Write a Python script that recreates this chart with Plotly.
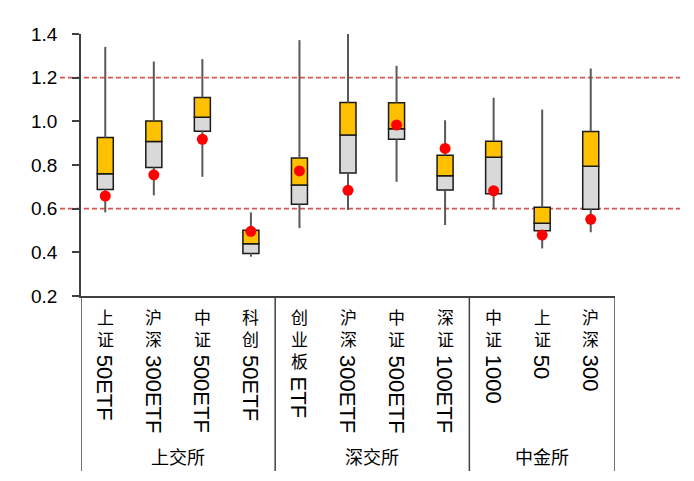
import plotly.graph_objects as go

# ---- data ----
labels = ["上证50ETF", "沪深300ETF", "中证500ETF", "科创50ETF",
          "创业板ETF", "沪深300ETF", "中证500ETF", "深证100ETF",
          "中证1000", "上证50", "沪深300"]
groups = ["上交所", "深交所", "中金所"]
group_sizes = [4, 4, 3]
w_low = [0.583, 0.661, 0.746, 0.380, 0.511, 0.594, 0.723, 0.525, 0.597, 0.418, 0.492]
q1 = [0.688, 0.789, 0.955, 0.395, 0.620, 0.763, 0.918, 0.685, 0.668, 0.499, 0.597]
median = [0.760, 0.908, 1.019, 0.439, 0.708, 0.937, 0.966, 0.751, 0.835, 0.533, 0.794]
q3 = [0.926, 1.002, 1.109, 0.501, 0.832, 1.086, 1.085, 0.845, 0.909, 0.606, 0.954]
w_high = [1.341, 1.274, 1.285, 0.583, 1.372, 1.400, 1.254, 1.005, 1.108, 1.054, 1.242]
current = [0.658, 0.755, 0.918, 0.496, 0.773, 0.684, 0.983, 0.876, 0.682, 0.479, 0.551]
ref_lines = [1.2, 0.6]
y_ticks = [0.2, 0.4, 0.6, 0.8, 1.0, 1.2, 1.4]

W, H = 694, 481
OFF = 8  # page body margin
# plot area in page pixels
PX0, PX1, PY0, PY1 = 81, 615, 34, 296
L = PX0 - OFF
T = PY0 - OFF
R = W - (PX1 - OFF)
B = H - (PY1 - OFF)
plot_w = PX1 - PX0
plot_h = PY1 - PY0

x = list(range(len(labels)))

fig = go.Figure()

# whiskers (two segments each, outside the box)
wx, wy = [], []
for i in x:
    wx += [i, i, None, i, i, None]
    wy += [w_low[i], q1[i], None, q3[i], w_high[i], None]
fig.add_trace(go.Scatter(x=wx, y=wy, mode="lines",
                         line=dict(color="#595959", width=2),
                         hoverinfo="skip", showlegend=False, cliponaxis=False))

# lower box (Q1 -> median)
fig.add_trace(go.Bar(x=x, base=q1, y=[m - a for m, a in zip(median, q1)],
                     width=0.33, marker=dict(color="#D9D9D9",
                     line=dict(color="#1a1a1a", width=1.5)), showlegend=False))
# upper box (median -> Q3)
fig.add_trace(go.Bar(x=x, base=median, y=[b - m for b, m in zip(q3, median)],
                     width=0.33, marker=dict(color="#FFC000",
                     line=dict(color="#1a1a1a", width=1.5)), showlegend=False))
# current value
fig.add_trace(go.Scatter(x=x, y=current, mode="markers",
                         marker=dict(color="#FF0000", size=11),
                         showlegend=False, cliponaxis=False))

def py2paper(py):
    return (PY1 - py) / plot_h

def px2paper(px):
    return (px - PX0) / plot_w

shapes = []
for v in ref_lines:
    shapes.append(dict(type="line", xref="paper", yref="y",
                       x0=px2paper(60), x1=px2paper(680),
                       y0=v, y1=v, layer="below",
                       line=dict(color="#D9534F", width=1.8, dash="5px,3px")))
# group separators below axis
bounds = [-0.5]
for s in group_sizes:
    bounds.append(bounds[-1] + s)
for b in bounds:
    shapes.append(dict(type="line", xref="x", yref="paper", x0=b, x1=b,
                       y0=0, y1=py2paper(471),
                       line=dict(color="#404040", width=1.5)))

annotations = []
cjk_font = "Noto Sans CJK SC"
for i, lab in enumerate(labels):
    n = 0
    while n < len(lab) and ord(lab[n]) > 127:
        n += 1
    cjk, lat = lab[:n], lab[n:]
    annotations.append(dict(x=i, y=py2paper(302), xref="x", yref="paper",
                            text="<br>".join(cjk), showarrow=False,
                            xanchor="center", yanchor="top",
                            font=dict(family=cjk_font, size=17, color="#000")))
    annotations.append(dict(x=i, y=py2paper(309 + 22 * n), xref="x", yref="paper",
                            text=lat, textangle=90, showarrow=False,
                            xanchor="center", yanchor="top",
                            font=dict(family="Liberation Sans, Arial", size=22, color="#000")))
for g, (a, b) in zip(groups, zip(bounds[:-1], bounds[1:])):
    annotations.append(dict(x=(a + b) / 2, y=py2paper(456), xref="x", yref="paper",
                            text=g, showarrow=False, xanchor="center", yanchor="middle",
                            font=dict(family=cjk_font, size=18, color="#000")))

fig.update_layout(
    width=W, height=H,
    margin=dict(l=L, r=R, t=T, b=B, pad=0),
    paper_bgcolor="white", plot_bgcolor="white",
    barmode="overlay",
    shapes=shapes, annotations=annotations,
    font=dict(family="Liberation Sans, Arial", size=18, color="#000"),
    xaxis=dict(range=[-0.5, len(labels) - 0.5], showticklabels=False, ticks="",
               showgrid=False, zeroline=False, showline=True,
               linecolor="#404040", linewidth=1.5, fixedrange=True),
    yaxis=dict(range=[0.2, 1.4], tickvals=y_ticks, tickformat=".1f",
               ticks="outside", ticklen=7, tickwidth=1.5, tickcolor="#404040",
               showgrid=False, zeroline=False, showline=True,
               linecolor="#404040", linewidth=1.5, ticklabelstandoff=11,
               tickfont=dict(size=19, color="#000")),
)

fig.write_html("out.html")
